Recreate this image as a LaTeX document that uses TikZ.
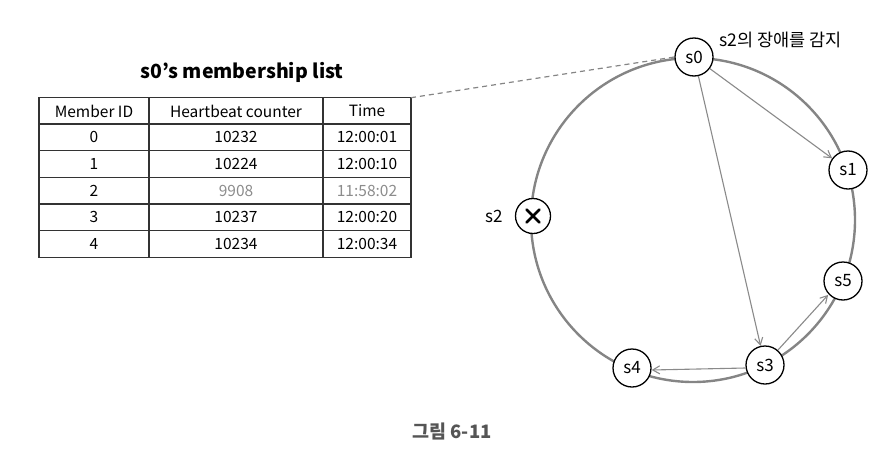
\documentclass[tikz,border=0pt]{standalone}
\usepackage{fontspec}
\setmainfont{Noto Sans CJK KR}
\usetikzlibrary{arrows.meta}
\definecolor{ringgray}{HTML}{858585}
\definecolor{arrgray}{HTML}{8A8A8A}
\definecolor{txtgray}{HTML}{8C8C8C}
\definecolor{capgray}{HTML}{555555}
\definecolor{linedark}{HTML}{333333}
\tikzset{
  srv/.style={circle, draw=black, line width=1.3pt, fill=white, minimum size=38pt, inner sep=0pt, font=\fontsize{17}{18}\selectfont},
  msg/.style={draw=arrgray, line width=1.1pt, -{Straight Barb[length=7pt,width=8pt,line width=1.1pt]}},
  ring/.style={draw=ringgray, line width=2.4pt},
  cell/.style={font=\fontsize{15.5}{16}\selectfont, inner sep=0pt, anchor=center},
  grid/.style={draw=linedark, line width=1.3pt},
  link/.style={draw=ringgray, line width=1.2pt, dash pattern=on 5pt off 4pt},
}
\begin{document}
\begin{tikzpicture}[x=1pt, y=-1pt]
\useasboundingbox (0,0) rectangle (886,466);

% ring
\coordinate (c) at (693,220);
\draw[ring] (c) circle[radius=162];

% nodes
\node[srv] (s0) at (694,57) {s0};
\node[srv] (s1) at (848,170) {s1};
\node[srv] (s5) at (843,281) {s5};
\node[srv] (s3) at (765,365) {s3};
\node[srv] (s4) at (632,368) {s4};
\node[srv, minimum size=35pt] (s2) at (533,216) {};
\draw[line width=2.8pt, line cap=round] ([shift={(-6.5,-6.5)}]s2.center) -- ([shift={(6.5,6.5)}]s2.center);
\draw[line width=2.8pt, line cap=round] ([shift={(-6.5,6.5)}]s2.center) -- ([shift={(6.5,-6.5)}]s2.center);
\node[font=\fontsize{17}{18}\selectfont, anchor=east] (s2lab) at (506,216) {s2};
\node[font=\fontsize{17.5}{18}\selectfont, anchor=west] (detect) at (716,40) {s2의 장애를 감지};

% messages
\draw[msg] (s0) -- (s1);
\draw[msg] (s0) -- (s3);
\draw[msg] ([yshift=-3pt]s3.west) -- ([yshift=-2pt]s4.east);
\draw[msg] ([shift={(-1,-1)}]s3.north east) -- ([shift={(-1,0)}]s5.south west);

% table
\coordinate (tl) at (39,97.7);
\coordinate (tr) at (411,97.7);
\draw[grid] (tl) rectangle (411,257.3);
\foreach \y in {124,150.7,177.3,204,230.7} \draw[grid] (39,\y) -- (411,\y);
\foreach \x in {149,323} \draw[grid] (\x,97.7) -- (\x,257.3);

\node[font=\bfseries\fontsize{19.5}{21}\selectfont] (title) at (242,72) {s0’s membership list};

\node[cell] (h1) at (94,111) {Member ID};
\node[cell] (h2) at (236,111) {Heartbeat counter};
\node[cell] (h3) at (367,111) {Time};

\node[cell] (a1) at (94,137.4) {0};
\node[cell] (a2) at (236,137.4) {10232};
\node[cell] (a3) at (367,137.4) {12:00:01};
\node[cell] (b1) at (94,164) {1};
\node[cell] (b2) at (236,164) {10224};
\node[cell] (b3) at (367,164) {12:00:10};
\node[cell] (c1) at (94,190.7) {2};
\node[cell, text=txtgray] (c2) at (236,190.7) {9908};
\node[cell, text=txtgray] (c3) at (367,190.7) {11:58:02};
\node[cell] (d1) at (94,217.4) {3};
\node[cell] (d2) at (236,217.4) {10237};
\node[cell] (d3) at (367,217.4) {12:00:20};
\node[cell] (e1) at (94,244) {4};
\node[cell] (e2) at (236,244) {10234};
\node[cell] (e3) at (367,244) {12:00:34};

% dashed link
\draw[link] (tr) -- (s0.west);

% caption
\node[font=\bfseries\fontsize{18.5}{20}\selectfont, text=capgray] (cap) at (452,431) {그림 6-11};
\end{tikzpicture}
\end{document}
